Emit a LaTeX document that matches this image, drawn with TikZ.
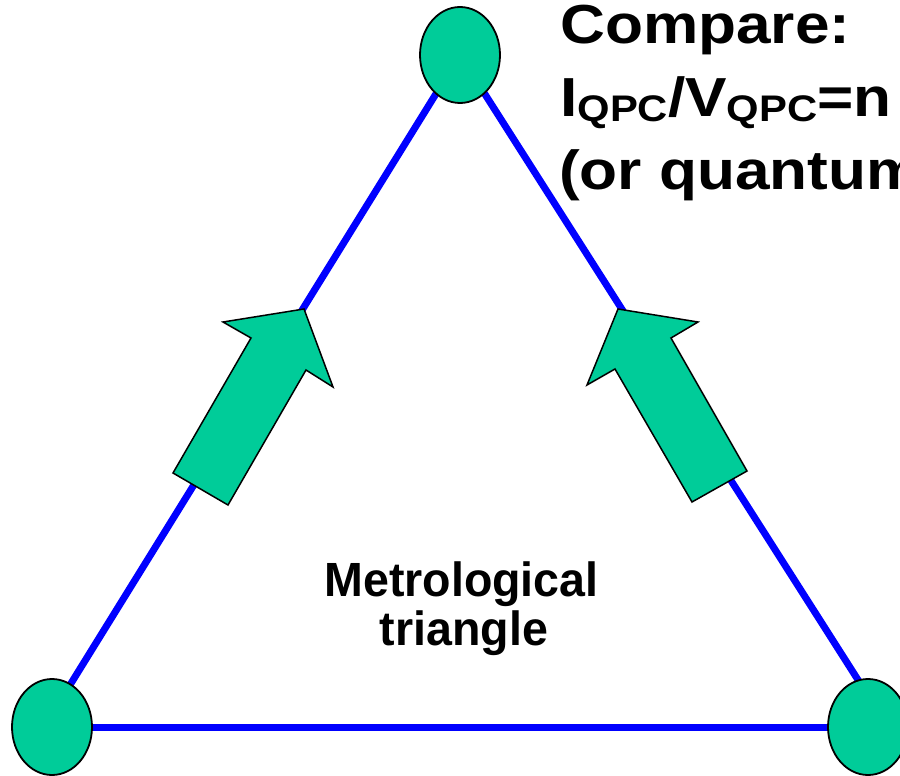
\documentclass[tikz,border=0pt]{standalone}
\usepackage{fontspec}
\setmainfont{Liberation Sans}
\usetikzlibrary{shapes.geometric,backgrounds}
\definecolor{dotgreen}{RGB}{0,204,153}
\definecolor{edgeblue}{RGB}{0,0,255}
\tikzset{
  edge/.style={draw=edgeblue, line width=7pt},
  dot/.style={ellipse, draw=black, line width=1.8pt, fill=dotgreen,
    minimum width=80pt, minimum height=96pt, inner sep=0pt},
  bigarrow/.style={draw=black, line width=1.5pt, fill=dotgreen, line join=miter},
  toplbl/.style={font=\bfseries\fontsize{55}{60}\selectfont, inner sep=0pt, anchor=base west},
  midlbl/.style={font=\bfseries\fontsize{48}{50}\selectfont, inner sep=0pt, anchor=base}
}
\newcommand{\subq}{{\fontsize{37}{37}\selectfont\raisebox{-5pt}{QPC}}}
\begin{document}
\begin{tikzpicture}[x=1pt,y=-1pt]
\useasboundingbox (0,0) rectangle (900,776);
\clip (0,0) rectangle (900,776);
% vertices
\node[dot] (top) at (460,55) {};
\node[dot] (bl) at (52,727) {};
\node[dot] (br) at (868,727) {};
\coordinate (blend) at (44,727);
\coordinate (brend) at (888,727);
% sides
\begin{scope}[on background layer]
\draw[edge] (top.center) -- (blend);
\draw[edge] (top.center) -- (brend);
\draw[edge] (bl.center) -- (br.center);
\end{scope}
% arrows
\draw[bigarrow] (304,309) -- (333,387) -- (306,370) -- (228,505) -- (173,473) -- (251,338) -- (223,322) -- cycle;
\draw[bigarrow] (618,309) -- (698,322) -- (671,338) -- (747,471) -- (692,502) -- (615,369) -- (587,385) -- cycle;
% labels
\node[midlbl] (metro1) at (461.5,596.7) {\scalebox{0.97}[1]{Metrological}};
\node[midlbl] (metro2) at (464,645) {\scalebox{0.97}[1]{triangle}};
\node[toplbl] (cmp1) at (560,44) {\scalebox{1.13}[1]{Compare:}};
\node[toplbl] (cmp2) at (560,117) {\scalebox{1.13}[1]{I\subq/V\subq=n}};
\node[toplbl] (cmp3) at (559,189) {\scalebox{1.13}[1]{(or quantum}};
\end{tikzpicture}
\end{document}
